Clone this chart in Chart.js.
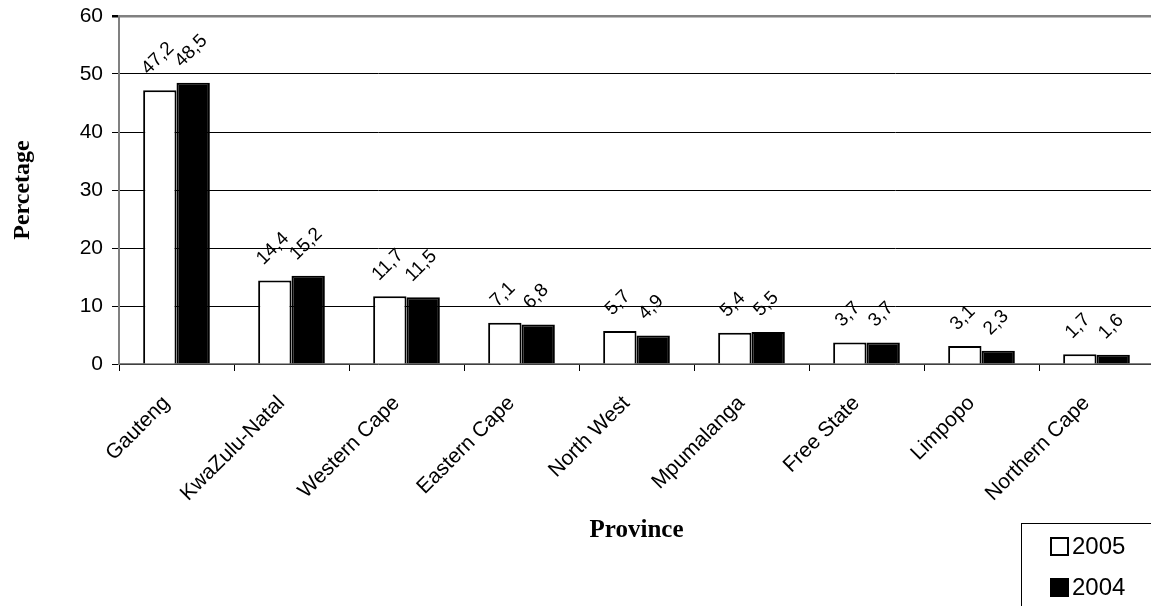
<!DOCTYPE html>
<html>
<head>
<meta charset="utf-8">
<script src="https://cdn.jsdelivr.net/npm/chart.js@4.4.1/dist/chart.umd.min.js"></script>
<style>
  html, body { margin: 0; padding: 0; background: #fff; overflow: hidden; }
  #wrap { position: relative; width: 1155px; height: 606px; }
  #legend {
    position: absolute; left: 1021px; top: 523px; width: 150px; height: 110px;
    border: 1.5px solid #000; box-sizing: border-box;
    font-family: "Liberation Sans", Arial, sans-serif; font-size: 24px; color: #000;
  }
  .row { position: absolute; left: 28px; height: 28px; display: flex; align-items: center; }
  .mk { width: 15px; height: 15px; border: 2px solid #000; margin-right: 3px; }
</style>
</head>
<body>
<div id="wrap">
  <canvas id="c" width="1155" height="606"></canvas>
  <div id="legend">
    <div class="row" style="top:8px"><span class="mk" style="background:#fff"></span>2005</div>
    <div class="row" style="top:49px"><span class="mk" style="background:#000"></span>2004</div>
  </div>
</div>
<script>
const provinces = ['Gauteng', 'KwaZulu-Natal', 'Western Cape', 'Eastern Cape', 'North West',
                   'Mpumalanga', 'Free State', 'Limpopo', 'Northern Cape'];
const share2005 = [47.2, 14.4, 11.7, 7.1, 5.7, 5.4, 3.7, 3.1, 1.7];
const share2004 = [48.5, 15.2, 11.5, 6.8, 4.9, 5.5, 3.7, 2.3, 1.6];
const yTicks = [0, 10, 20, 30, 40, 50, 60];

const fmt = v => v.toFixed(1).replace('.', ',');
const LABEL_SIZE = 19;

// Value labels written diagonally above each bar
const barLabels = {
  id: 'barLabels',
  afterDatasetsDraw(chart) {
    const ctx = chart.ctx;
    ctx.save();
    ctx.font = LABEL_SIZE + 'px "Liberation Sans", Arial, sans-serif';
    ctx.fillStyle = '#000';
    ctx.textAlign = 'center';
    ctx.textBaseline = 'middle';
    chart.data.datasets.forEach((ds, i) => {
      chart.getDatasetMeta(i).data.forEach((bar, j) => {
        const txt = fmt(ds.data[j]);
        const w = ctx.measureText(txt).width;
        const half = (w + LABEL_SIZE) * 0.3535;
        ctx.save();
        ctx.translate(bar.x - 2, bar.y - 12 - half);
        ctx.rotate(-Math.PI / 4);
        ctx.fillText(txt, 0, 0);
        ctx.restore();
      });
    });
    ctx.restore();
  }
};

new Chart(document.getElementById('c'), {
  type: 'bar',
  data: {
    labels: provinces,
    datasets: [
      { label: '2005', data: share2005, backgroundColor: '#fff', borderColor: '#000', borderWidth: 2,
        categoryPercentage: 0.58, barPercentage: 1.0 },
      { label: '2004', data: share2004, backgroundColor: '#000', borderColor: '#000', borderWidth: 2,
        categoryPercentage: 0.58, barPercentage: 1.0 }
    ]
  },
  options: {
    responsive: false,
    animation: false,
    layout: { padding: { top: 16, left: 0, right: 1, bottom: 0 } },
    plugins: { legend: { display: false }, tooltip: { enabled: false } },
    scales: {
      x: {
        grid: { display: true, drawOnChartArea: false, color: '#000', tickLength: 7, offset: true },
        border: { color: '#808080', width: 1.5 },
        ticks: {
          color: '#000', minRotation: 45, maxRotation: 45, autoSkip: false, padding: 20, labelOffset: -10,
          font: { family: '"Liberation Sans", Arial, sans-serif', size: 21 }
        },
        title: {
          display: true, text: 'Province', color: '#000',
          font: { family: '"Liberation Serif", "Times New Roman", serif', size: 25, weight: 'bold' },
          padding: { top: 0, bottom: 60 }
        },
        afterFit(scale) { scale.height = 242; }
      },
      y: {
        min: 0, max: 60,
        afterBuildTicks(scale) { scale.ticks = yTicks.map(v => ({ value: v })); },
        grid: {
          color: ctx => ctx.tick && ctx.tick.value === 60 ? '#808080' : '#000',
          lineWidth: ctx => ctx.tick && ctx.tick.value === 60 ? 2.5 : 1,
          tickColor: '#000', tickLength: 7
        },
        border: { color: '#808080', width: 2 },
        ticks: {
          color: '#000', padding: 9,
          font: { family: '"Liberation Sans", Arial, sans-serif', size: 21 }
        },
        title: {
          display: true, text: 'Percetage', color: '#000',
          font: { family: '"Liberation Serif", "Times New Roman", serif', size: 24, weight: 'bold' },
          padding: { top: 8, bottom: 0 }
        },
        afterFit(scale) {
          scale.width = 119;
          scale.paddingTop = 0;
          scale.paddingBottom = 0;
        }
      }
    }
  },
  plugins: [barLabels]
});
</script>
</body>
</html>
